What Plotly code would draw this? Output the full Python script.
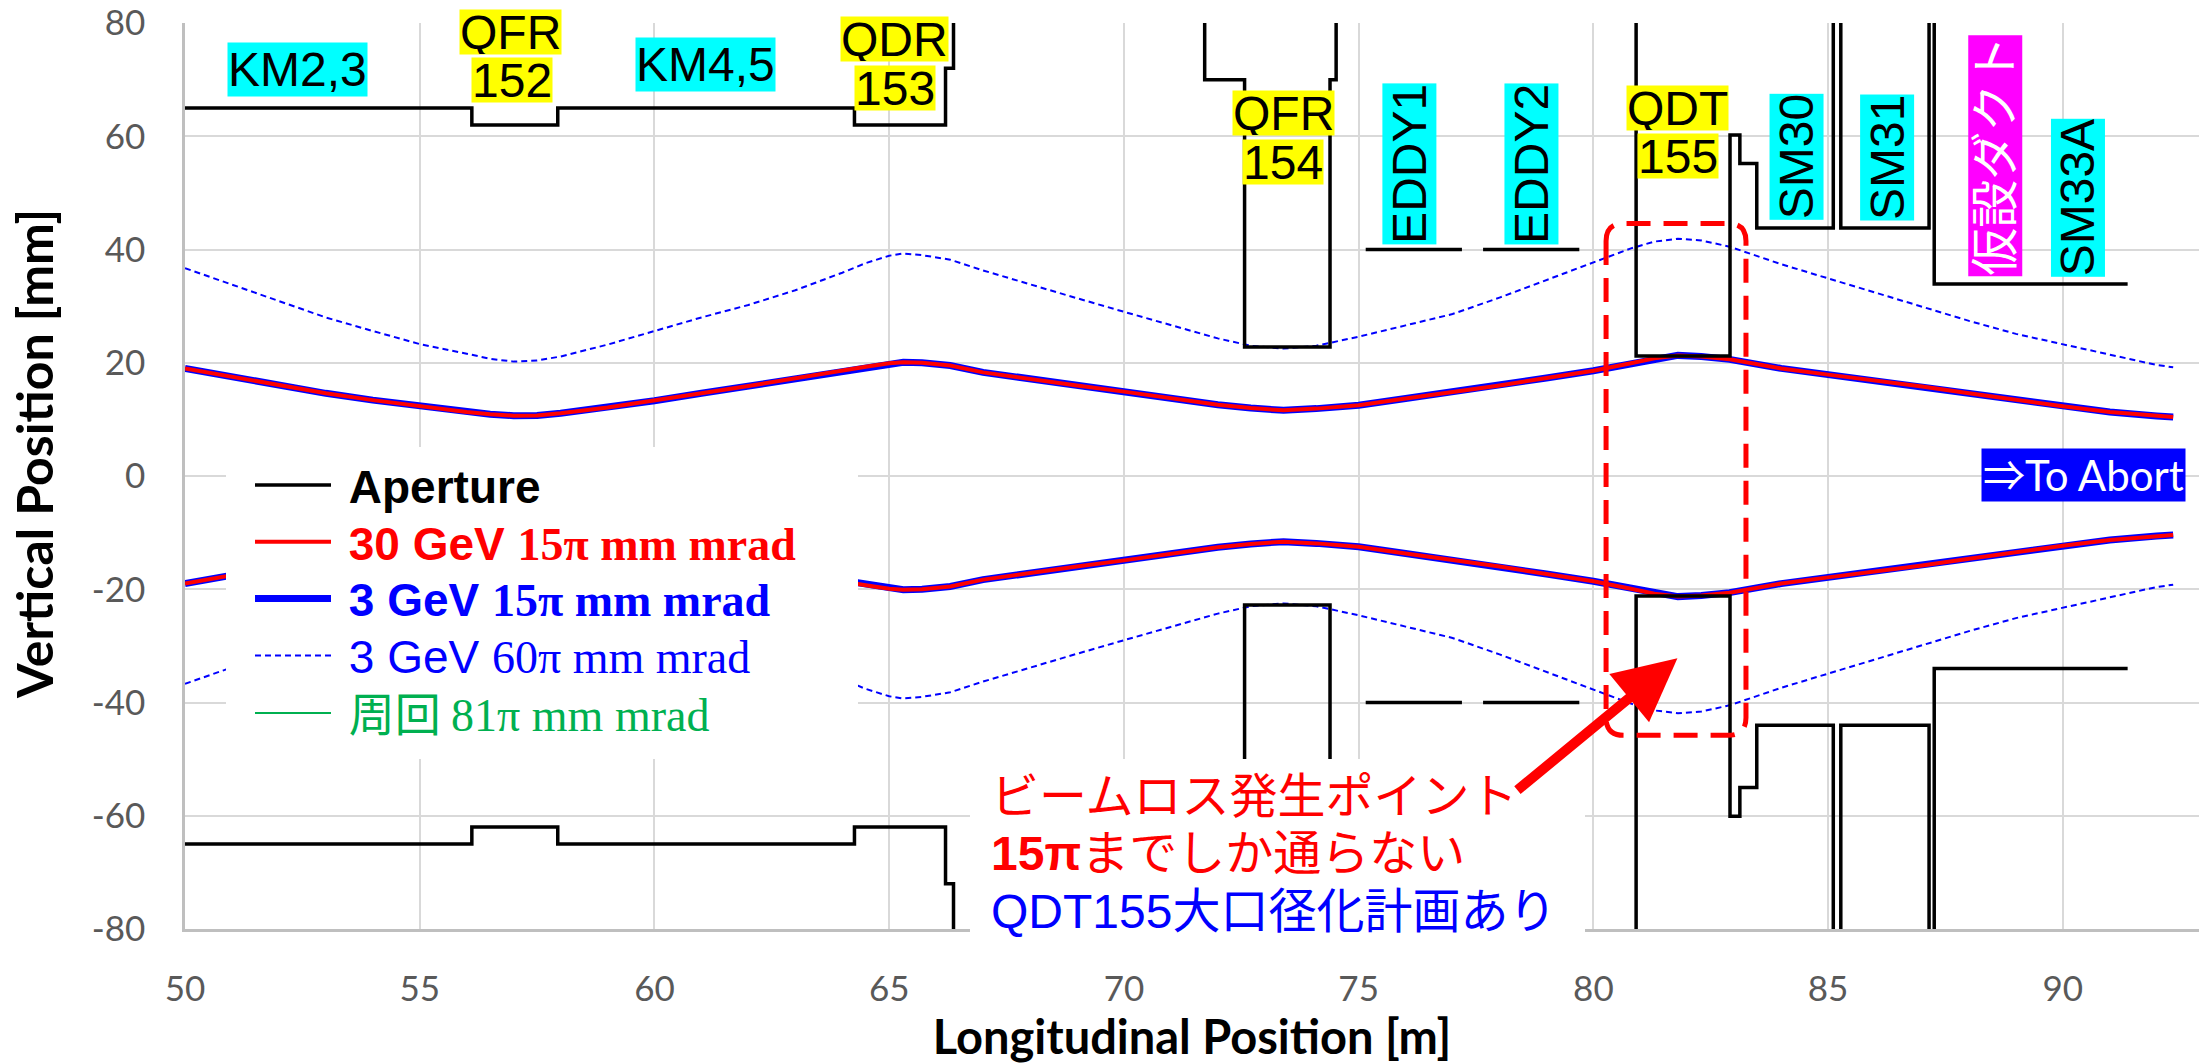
import plotly.graph_objects as go

# ---------------- data ----------------
x_env = [50, 51, 52, 53, 54, 55, 56, 56.5, 57, 57.5, 58, 59, 60, 61, 62, 63, 64, 64.5, 65, 65.3,
         65.7, 66.3, 67, 68, 69, 70, 71, 72, 72.7, 73.4, 74.1, 75, 76, 77, 78, 79, 80, 80.8, 81.3,
         81.8, 82.3, 82.9, 84, 85, 86, 87, 88, 89, 90, 91, 92, 92.35]

env15_30gev_upper = [19.0, 17.5, 16.0, 14.6, 13.4, 12.3, 11.3, 10.9, 10.65, 10.7, 11.1, 12.1, 13.3,
                     14.6, 15.9, 17.3, 18.6, 19.3, 19.9, 20.1, 20.0, 19.5, 18.3, 17.1, 16.0, 14.9,
                     13.7, 12.6, 12.0, 11.6, 11.9, 12.5, 13.7, 14.8, 16.0, 17.3, 18.6, 19.9, 20.8,
                     21.3, 21.1, 20.6, 19.0, 17.9, 16.9, 15.8, 14.6, 13.4, 12.3, 11.3, 10.6, 10.4]
env15_30gev_lower = [-19.0, -17.5, -16.0, -14.6, -13.4, -12.3, -11.3, -10.9, -10.65, -10.7, -11.1,
                     -12.1, -13.3, -14.6, -15.9, -17.3, -18.6, -19.3, -19.9, -20.1, -20.0, -19.5,
                     -18.3, -17.1, -16.0, -14.9, -13.7, -12.6, -12.0, -11.6, -11.9, -12.5, -13.7,
                     -14.8, -16.0, -17.3, -18.6, -19.9, -20.8, -21.3, -21.1, -20.6, -19.0, -17.9,
                     -16.9, -15.8, -14.6, -13.4, -12.3, -11.3, -10.6, -10.4]
env15_3gev_upper = list(env15_30gev_upper)
env15_3gev_lower = list(env15_30gev_lower)

env60_3gev_upper = [36.7, 33.8, 30.9, 28.0, 25.6, 23.3, 21.6, 20.7, 20.2, 20.4, 21.1, 23.2, 25.6,
                    28.0, 30.2, 32.8, 35.9, 37.6, 38.9, 39.3, 39.0, 38.2, 36.3, 33.8, 31.4, 29.0,
                    26.6, 24.3, 23.0, 22.5, 23.0, 24.6, 26.6, 28.6, 31.5, 34.6, 37.8, 40.2, 41.4,
                    41.9, 41.6, 40.5, 37.4, 34.9, 32.3, 29.8, 27.4, 25.1, 23.3, 21.4, 19.6, 19.2]
env60_3gev_lower = [-36.7, -33.8, -30.9, -28.0, -25.6, -23.3, -21.6, -20.7, -20.2, -20.4, -21.1,
                    -23.2, -25.6, -28.0, -30.2, -32.8, -35.9, -37.6, -38.9, -39.3, -39.0, -38.2,
                    -36.3, -33.8, -31.4, -29.0, -26.6, -24.3, -23.0, -22.5, -23.0, -24.6, -26.6,
                    -28.6, -31.5, -34.6, -37.8, -40.2, -41.4, -41.9, -41.6, -40.5, -37.4, -34.9,
                    -32.3, -29.8, -27.4, -25.1, -23.3, -21.4, -19.6, -19.2]

aperture_x = [50, 56.11, 56.11, 57.94, 57.94, 64.26, 64.26, 66.2, 66.2, 66.37, 66.37, None,
              71.72, 71.72, 72.57, 72.57, 74.39, 74.39, 74.52, 74.52, None,
              75.15, 77.2, None, 77.65, 79.7, None,
              80.91, 80.91, 82.91, 82.91, 83.12, 83.12, 83.48, 83.48, 85.11, 85.11, None,
              85.27, 85.27, 87.15, 87.15, None,
              87.26, 87.26, 91.38, None,
              50, 56.11, 56.11, 57.94, 57.94, 64.26, 64.26, 66.2, 66.2, 66.37, 66.37, None,
              71.72, 71.72, 72.57, 72.57, 74.39, 74.39, 74.52, 74.52, None,
              75.15, 77.2, None, 77.65, 79.7, None,
              80.91, 80.91, 82.91, 82.91, 83.12, 83.12, 83.48, 83.48, 85.11, 85.11, None,
              85.27, 85.27, 87.15, 87.15, None,
              87.26, 87.26, 91.38]
aperture_y = [65, 65, 62, 62, 65, 65, 62, 62, 72, 72, 80, None,
              80, 70, 70, 22.8, 22.8, 70, 70, 80, None,
              40, 40, None, 40, 40, None,
              80, 21.2, 21.2, 60.2, 60.2, 55.2, 55.2, 43.8, 43.8, 80, None,
              80, 43.8, 43.8, 80, None,
              80, 33.9, 33.9, None,
              -65, -65, -62, -62, -65, -65, -62, -62, -72, -72, -80, None,
              -80, -70, -70, -22.8, -22.8, -70, -70, -80, None,
              -40, -40, None, -40, -40, None,
              -80, -21.2, -21.2, -60.1, -60.1, -55.0, -55.0, -44.0, -44.0, -80, None,
              -80, -44.0, -44.0, -80, None,
              -80, -34.0, -34.0]

x_ticks = [50, 55, 60, 65, 70, 75, 80, 85, 90]
y_ticks = [-80, -60, -40, -20, 0, 20, 40, 60, 80]

# element labels: text, x, y, background, text colour, angle, fixed box height
labels = [
    ("KM2,3", 52.40, 71.8, "#00FFFF", "black", 0, None),
    ("QFR", 56.94, 78.45, "#FFFF00", "black", 0, 44),
    ("152", 56.96, 69.9, "#FFFF00", "black", 0, 44),
    ("KM4,5", 61.08, 72.6, "#00FFFF", "black", 0, None),
    ("QDR", 65.12, 77.15, "#FFFF00", "black", 0, 44),
    ("153", 65.12, 68.6, "#FFFF00", "black", 0, 44),
    ("QFR", 73.39, 64.05, "#FFFF00", "black", 0, 44),
    ("154", 73.38, 55.5, "#FFFF00", "black", 0, 44),
    ("EDDY1", 76.07, 55.1, "#00FFFF", "black", -90, None),
    ("EDDY2", 78.67, 55.1, "#00FFFF", "black", -90, None),
    ("QDT", 81.80, 65.05, "#FFFF00", "black", 0, 44),
    ("155", 81.80, 56.5, "#FFFF00", "black", 0, 44),
    ("SM30", 84.33, 56.4, "#00FFFF", "black", -90, None),
    ("SM31", 86.25, 56.3, "#00FFFF", "black", -90, None),
    ("仮設ダクト", 88.56, 56.6, "#FF00FF", "white", -90, None),
    ("SM33A", 90.32, 49.2, "#00FFFF", "black", -90, None),
]

SANS = "Liberation Sans, Arial, Noto Sans CJK JP"
SERIF = "Liberation Serif"
NB = "\u00a0"

L, R, T, B = 185, 0, 23, 135
W, H = 2199, 1064
pw, ph = W - L - R, H - T - B


def px2paper_x(px):
    return (px - L) / pw


def px2paper_y(py):
    return (H - B - py) / ph


fig = go.Figure()

fig.add_trace(go.Scatter(
    x=x_env + [None] + x_env, y=env60_3gev_upper + [None] + env60_3gev_lower,
    mode="lines", line=dict(color="#0000FF", width=2, dash="6px,4px"),
    name=f'{NB}<span style="color:#0000FF">3 GeV </span><span style="color:#0000FF;font-family:{SERIF}">60π mm mrad</span>',
    legend="legend4"))
fig.add_trace(go.Scatter(
    x=x_env + [None] + x_env, y=env15_3gev_upper + [None] + env15_3gev_lower,
    mode="lines", line=dict(color="#0000FF", width=7),
    name=f'{NB}<b><span style="color:#0000FF">3 GeV </span><span style="color:#0000FF;font-family:{SERIF}">15π mm mrad</span></b>',
    legend="legend3"))
fig.add_trace(go.Scatter(
    x=x_env + [None] + x_env, y=env15_30gev_upper + [None] + env15_30gev_lower,
    mode="lines", line=dict(color="#FF0000", width=4),
    name=f'{NB}<b><span style="color:#FF0000">30 GeV </span><span style="color:#FF0000;font-family:{SERIF}">15π mm mrad</span></b>',
    legend="legend2"))
fig.add_trace(go.Scatter(
    x=aperture_x, y=aperture_y, mode="lines", line=dict(color="black", width=3.5),
    name=f'{NB}<b>Aperture</b>', legend="legend"))
fig.add_trace(go.Scatter(
    x=[None], y=[None], mode="lines", line=dict(color="#00B050", width=2),
    name=f'{NB}<span style="color:#00B050;font-family:Noto Sans CJK JP">周回 </span><span style="color:#00B050;font-family:{SERIF}">81π mm mrad</span>',
    legend="legend5"))

annotations = []
for text, lx, ly, bg, fc, ang, hgt in labels:
    a = dict(x=lx, y=ly, xref="x", yref="y", text=text, showarrow=False,
             bgcolor=bg, borderpad=0, textangle=ang,
             font=dict(family=SANS, size=48, color=fc))
    if hgt:
        a["height"] = hgt
    annotations.append(a)

annotations.append(dict(x=90.45, y=0.2, xref="x", yref="y", text="⇒To Abort", showarrow=False,
                        bgcolor="#0000FF", borderpad=1,
                        font=dict(family="Lato, Noto Sans CJK JP", size=42, color="white")))

comment_lines = [
    ('<span style="color:#FF0000">ビームロス発生ポイント</span>', 796),
    ('<span style="color:#FF0000"><b>15π</b>までしか通らない</span>', 853),
    ('<span style="color:#0000FF">QDT155大口径化計画あり</span>', 911),
]
for txt, py in comment_lines:
    annotations.append(dict(x=px2paper_x(989), y=px2paper_y(py), xref="paper", yref="paper",
                            xanchor="left", yanchor="middle", align="left", showarrow=False,
                            text=txt, font=dict(family=SANS, size=48)))

annotations.append(dict(x=81.79, y=-32.2, ax=78.35, ay=-55.7, xref="x", yref="y",
                        axref="x", ayref="y", text="", showarrow=True, arrowhead=2,
                        arrowsize=1.25, arrowwidth=10, arrowcolor="#FF0000", standoff=0))

# y axis title
annotations.append(dict(x=px2paper_x(34), y=px2paper_y(454), xref="paper", yref="paper",
                        xanchor="center", yanchor="middle", textangle=-90, showarrow=False,
                        text="<b>Vertical Position [mm]</b>",
                        font=dict(family="Lato", size=50, color="black")))

shapes = [
    # white legend panel
    dict(type="rect", xref="paper", yref="paper", layer="above",
         x0=px2paper_x(226), x1=px2paper_x(858), y0=px2paper_y(759), y1=px2paper_y(447),
         fillcolor="white", line=dict(width=0)),
    # white comment panel
    dict(type="rect", xref="paper", yref="paper", layer="above",
         x0=px2paper_x(970), x1=px2paper_x(1585), y0=px2paper_y(940), y1=px2paper_y(759),
         fillcolor="white", line=dict(width=0)),
    # red dashed rounded frame around QDT155
    dict(type="path", xref="x", yref="y", layer="above",
         path=("M 80.27,41.5 L 80.27,-42.7 Q 80.27,-45.8 80.65,-45.8 L 82.87,-45.8 "
               "Q 83.25,-45.8 83.25,-42.7 L 83.25,41.5 Q 83.25,44.6 82.87,44.6 "
               "L 80.65,44.6 Q 80.27,44.6 80.27,41.5 Z"),
         line=dict(color="#FF0000", width=5, dash="24px,13px")),
]

legend_rows = [485.0, 541.8, 598.5, 655.5, 713.0]
legend_common = dict(xanchor="left", yanchor="middle", bgcolor="rgba(0,0,0,0)",
                     font=dict(family=SANS, size=46, color="black"), itemwidth=76)
legend_layout = {}
for i, py in enumerate(legend_rows):
    key = "legend" if i == 0 else f"legend{i + 1}"
    legend_layout[key] = dict(x=px2paper_x(250), y=px2paper_y(py), **legend_common)

fig.update_layout(
    width=W, height=H,
    margin=dict(l=L, r=R, t=T, b=B),
    plot_bgcolor="white", paper_bgcolor="white",
    showlegend=True,
    annotations=annotations,
    shapes=shapes,
    **legend_layout,
)

fig.update_xaxes(range=[50, 92.9], tickvals=x_ticks, ticktext=[str(v) for v in x_ticks],
                 showgrid=True, gridcolor="#D9D9D9", gridwidth=2, zeroline=False,
                 showline=True, linecolor="#BFBFBF", linewidth=2.5, ticks="",
                 ticklabelstandoff=27,
                 tickfont=dict(family="Lato", size=35, color="#595959"),
                 title=dict(text="<b>Longitudinal Position [m]</b>", standoff=11,
                            font=dict(family="Lato", size=47, color="black")))
fig.update_yaxes(range=[-80, 80], tickvals=y_ticks, ticktext=[str(v) for v in y_ticks],
                 showgrid=True, gridcolor="#D9D9D9", gridwidth=2, zeroline=False,
                 showline=True, linecolor="#BFBFBF", linewidth=2.5, ticks="",
                 ticklabelstandoff=30,
                 tickfont=dict(family="Lato", size=35, color="#595959"))

fig.write_html("out.html", config={"displayModeBar": False},
               post_script="document.body.style.margin='0';")
